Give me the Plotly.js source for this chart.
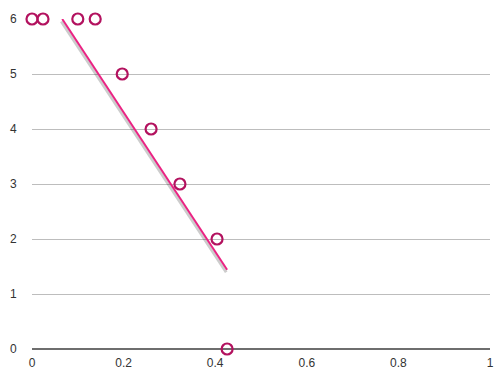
<!DOCTYPE html>
<html>
<head>
<meta charset="utf-8">
<script src="https://cdn.plot.ly/plotly-3.0.1.min.js"></script>
<style>html,body{margin:0;padding:0;background:#fff;}#chart{width:500px;height:373px;}</style>
</head>
<body>
<div id="chart"></div>
<script>
// Scatter points
const pointX = [0, 0.024, 0.100, 0.138, 0.197, 0.260, 0.323, 0.404, 0.426];
const pointY = [6, 6, 6, 6, 5, 4, 3, 2, 0];
// Trend line endpoints
const lineX = [0.066, 0.426];
const lineY = [6, 1.44];
// Ticks
const xTicks = [0, 0.2, 0.4, 0.6, 0.8, 1];
const xTickLabels = ["0", "0.2", "0.4", "0.6", "0.8", "1"];
const yTicks = [0, 1, 2, 3, 4, 5, 6];
const yTickLabels = ["0", "1", "2", "3", "4", "5", "6"];

const shadowDx = -0.002, shadowDy = 0.045;

const traces = [
  {x: lineX.map(v => v + shadowDx), y: lineY.map(v => v - shadowDy), mode: 'lines',
   line: {color: 'rgba(0,0,0,0.2)', width: 3}, hoverinfo: 'skip', cliponaxis: false},
  {x: lineX, y: lineY, mode: 'lines', line: {color: '#ea2383', width: 2}, cliponaxis: false},
  {x: pointX, y: pointY, mode: 'markers', cliponaxis: false,
   marker: {symbol: 'circle-open', size: 11, color: '#b3125f', line: {width: 2.2, color: '#b3125f'}}}
];

const layout = {
  width: 500, height: 373,
  margin: {l: 32, r: 10, t: 19, b: 24},
  paper_bgcolor: '#fff', plot_bgcolor: '#fff',
  showlegend: false,
  font: {family: 'Liberation Sans, Arial, sans-serif', size: 12, color: '#333'},
  xaxis: {range: [0, 1], tickvals: xTicks, ticktext: xTickLabels, showgrid: false,
          zeroline: false, showline: false, ticks: 'outside', ticklen: 3, tickcolor: 'rgba(0,0,0,0)', fixedrange: true},
  yaxis: {range: [0, 6], tickvals: yTicks, ticktext: yTickLabels, showgrid: true,
          gridcolor: '#bdbdbd', gridwidth: 1, zeroline: true, zerolinecolor: '#6e6e6e', zerolinewidth: 1.5,
          showline: false, ticks: 'outside', ticklen: 12, tickcolor: 'rgba(0,0,0,0)', fixedrange: true}
};

Plotly.newPlot('chart', traces, layout, {staticPlot: true, displayModeBar: false});
</script>
</body>
</html>
